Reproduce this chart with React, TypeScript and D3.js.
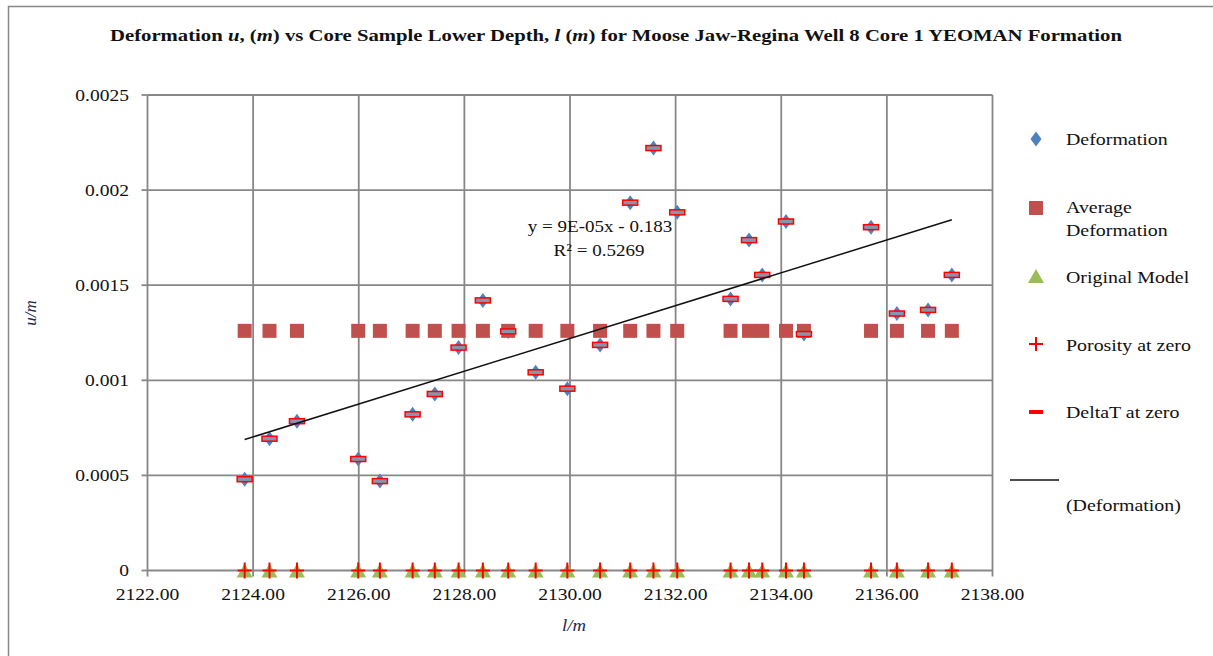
import React from "react";
import * as d3 from "d3";

const depths = [2123.84, 2124.31, 2124.83, 2125.99, 2126.4, 2127.02, 2127.44, 2127.89, 2128.35, 2128.83, 2129.35, 2129.95, 2130.57, 2131.14, 2131.58, 2132.03, 2133.04, 2133.39, 2133.64, 2134.09, 2134.43, 2135.7, 2136.19, 2136.78, 2137.23];
const deformation = [0.00048, 0.000693, 0.000785, 0.000586, 0.00047, 0.000821, 0.000928, 0.001172, 0.00142, 0.001257, 0.001042, 0.000956, 0.001186, 0.001934, 0.002221, 0.001883, 0.001428, 0.001737, 0.001554, 0.001835, 0.001243, 0.001805, 0.001351, 0.00137, 0.001554];
const averageDeformation = [0.00126, 0.00126, 0.00126, 0.00126, 0.00126, 0.00126, 0.00126, 0.00126, 0.00126, 0.00126, 0.00126, 0.00126, 0.00126, 0.00126, 0.00126, 0.00126, 0.00126, 0.00126, 0.00126, 0.00126, 0.00126, 0.00126, 0.00126, 0.00126, 0.00126];
const originalModel = [0, 0, 0, 0, 0, 0, 0, 0, 0, 0, 0, 0, 0, 0, 0, 0, 0, 0, 0, 0, 0, 0, 0, 0, 0];
const porosityAtZero = [0, 0, 0, 0, 0, 0, 0, 0, 0, 0, 0, 0, 0, 0, 0, 0, 0, 0, 0, 0, 0, 0, 0, 0, 0];
const deltaTAtZero = [0.00048, 0.000693, 0.000785, 0.000586, 0.00047, 0.000821, 0.000928, 0.001172, 0.00142, 0.001257, 0.001042, 0.000956, 0.001186, 0.001934, 0.002221, 0.001883, 0.001428, 0.001737, 0.001554, 0.001835, 0.001243, 0.001805, 0.001351, 0.00137, 0.001554];

const xTicks = [2122, 2124, 2126, 2128, 2130, 2132, 2134, 2136, 2138];
const xTickLabels = ["2122.00", "2124.00", "2126.00", "2128.00", "2130.00", "2132.00", "2134.00", "2136.00", "2138.00"];
const yTicks = [0, 0.0005, 0.001, 0.0015, 0.002, 0.0025];
const yTickLabels = ["0", "0.0005", "0.001", "0.0015", "0.002", "0.0025"];
const legendLabels = ["Deformation", "Average", "Deformation", "Original Model", "Porosity at zero", "DeltaT at zero", "(Deformation)"];
const equationText = "y = 9E-05x - 0.183";
const r2Text = "R² = 0.5269";

const FONT = "'Liberation Serif', 'Times New Roman', serif";
const GRID = "#878787";

function Txt({ x, y, anchor = "start", size = 17, sx = 1.17, style = "normal", weight = "normal", fill = "#111", children }: any) {
  return (
    <g transform={`translate(${x},${y}) scale(${sx},1)`}>
      <text x={0} y={0} textAnchor={anchor} fontSize={size} fontFamily={FONT} fontStyle={style} fontWeight={weight} fill={fill}>
        {children}
      </text>
    </g>
  );
}

const diamond = (cx: number, cy: number) => `M${cx},${cy - 7.5} L${cx + 5.5},${cy} L${cx},${cy + 7.5} L${cx - 5.5},${cy} Z`;
const triangle = (cx: number, cy: number) => `M${cx},${cy - 7} L${cx + 8},${cy + 7} L${cx - 8},${cy + 7} Z`;

export default function App() {
  const x = d3.scaleLinear().domain([2122, 2138]).range([147.5, 992.5]);
  const y = d3.scaleLinear().domain([0, 0.0025]).range([570.5, 95]);

  // linear regression trendline
  const n = depths.length;
  const mx = d3.mean(depths) as number;
  const my = d3.mean(deformation) as number;
  let sxy = 0, sxx = 0;
  for (let i = 0; i < n; i++) {
    sxy += (depths[i] - mx) * (deformation[i] - my);
    sxx += (depths[i] - mx) ** 2;
  }
  const slope = sxy / sxx;
  const icpt = my - slope * mx;
  const xMin = d3.min(depths) as number;
  const xMax = d3.max(depths) as number;
  const line = d3.line<number>().x((d) => x(d)).y((d) => y(slope * d + icpt));

  const lx = 1036;
  return (
    <svg width={1213} height={656} style={{ position: "absolute", left: 0, top: 0, background: "#fff" }}>
      <rect x={8.5} y={6.5} width={1220} height={670} fill="#fff" stroke={GRID} strokeWidth={1.5} />
      {/* title */}
      <text x={616} y={41} textAnchor="middle" fontSize={17} fontWeight="bold" fontFamily={FONT} fill="#111" textLength={1012} lengthAdjust="spacingAndGlyphs">
        Deformation <tspan fontStyle="italic">u</tspan>, (<tspan fontStyle="italic">m</tspan>) vs Core Sample Lower Depth, <tspan fontStyle="italic">l</tspan> (<tspan fontStyle="italic">m</tspan>) for Moose Jaw-Regina Well 8 Core 1 YEOMAN Formation
      </text>
      {/* grid */}
      {yTicks.map((t) => (
        <line key={"gy" + t} x1={x(2122)} x2={x(2138)} y1={y(t)} y2={y(t)} stroke={GRID} strokeWidth={1.8} />
      ))}
      {xTicks.map((t) => (
        <line key={"gx" + t} x1={x(t)} x2={x(t)} y1={y(0.0025)} y2={y(0) + 6} stroke={GRID} strokeWidth={1.8} />
      ))}
      {yTicks.map((t) => (
        <line key={"ty" + t} x1={x(2122) - 6} x2={x(2122)} y1={y(t)} y2={y(t)} stroke={GRID} strokeWidth={1.8} />
      ))}
      {/* tick labels */}
      {yTicks.map((t, i) => (
        <Txt key={"ly" + t} x={129} y={y(t) + 5.5} anchor="end" size={16} sx={1.22}>
          {yTickLabels[i]}
        </Txt>
      ))}
      {xTicks.map((t, i) => (
        <Txt key={"lx" + t} x={x(t)} y={600} anchor="middle" size={17.5} sx={1.12}>
          {xTickLabels[i]}
        </Txt>
      ))}
      {/* axis titles */}
      <g transform="translate(36,313) rotate(-90)">
        <text x={0} y={0} textAnchor="middle" fontSize={17} fontStyle="italic" fontFamily={FONT} fill="#1c2850">
          u/m
        </text>
      </g>
      <Txt x={574} y={631} anchor="middle" size={17} sx={1.1} style="italic" fill="#1c2850">
        l/m
      </Txt>
      {/* series: Deformation */}
      {depths.map((d, i) => (
        <path key={"dm" + i} d={diamond(x(d), y(deformation[i]))} fill="#4f81bd" />
      ))}
      {/* Average Deformation */}
      {depths.map((d, i) => (
        <rect key={"av" + i} x={x(d) - 7} y={y(averageDeformation[i]) - 7} width={14} height={14} fill="#c0504d" />
      ))}
      {/* Original Model */}
      {depths.map((d, i) => (
        <path key={"om" + i} d={triangle(x(d), y(originalModel[i]))} fill="#9bbb59" />
      ))}
      {/* Porosity at zero */}
      {depths.map((d, i) => (
        <g key={"pz" + i} stroke="#ff0000" strokeWidth={2}>
          <line x1={x(d) - 7} x2={x(d) + 7} y1={y(porosityAtZero[i])} y2={y(porosityAtZero[i])} />
          <line x1={x(d)} x2={x(d)} y1={y(porosityAtZero[i]) - 8} y2={y(porosityAtZero[i]) + 8} />
        </g>
      ))}
      {/* DeltaT at zero */}
      {depths.map((d, i) => (
        <rect key={"dt" + i} x={x(d) - 7.5} y={y(deltaTAtZero[i]) - 2.5} width={15} height={5} fill="#8496ad" stroke="#ff0000" strokeWidth={1.5} />
      ))}
      {/* trendline */}
      <path d={line([xMin, xMax]) as string} fill="none" stroke="#111" strokeWidth={1.5} />
      <Txt x={600} y={232} anchor="middle" size={17} sx={1.12}>
        {equationText}
      </Txt>
      <Txt x={599} y={256} anchor="middle" size={17} sx={1.12}>
        {r2Text}
      </Txt>
      {/* legend */}
      <path d={diamond(lx, 139)} fill="#4f81bd" />
      <Txt x={1066} y={145}>{legendLabels[0]}</Txt>
      <rect x={lx - 7} y={201} width={14} height={14} fill="#c0504d" />
      <Txt x={1066} y={213}>{legendLabels[1]}</Txt>
      <Txt x={1066} y={236}>{legendLabels[2]}</Txt>
      <path d={triangle(lx, 276)} fill="#9bbb59" />
      <Txt x={1066} y={283}>{legendLabels[3]}</Txt>
      <g stroke="#ff0000" strokeWidth={2}>
        <line x1={lx - 7} x2={lx + 7} y1={344} y2={344} />
        <line x1={lx} x2={lx} y1={337} y2={351} />
      </g>
      <Txt x={1066} y={351}>{legendLabels[4]}</Txt>
      <rect x={lx - 7} y={410} width={14} height={4} fill="#ff0000" />
      <Txt x={1066} y={418}>{legendLabels[5]}</Txt>
      <line x1={1010} x2={1059} y1={480} y2={480} stroke="#111" strokeWidth={1.5} />
      <Txt x={1066} y={511}>{legendLabels[6]}</Txt>
    </svg>
  );
}
